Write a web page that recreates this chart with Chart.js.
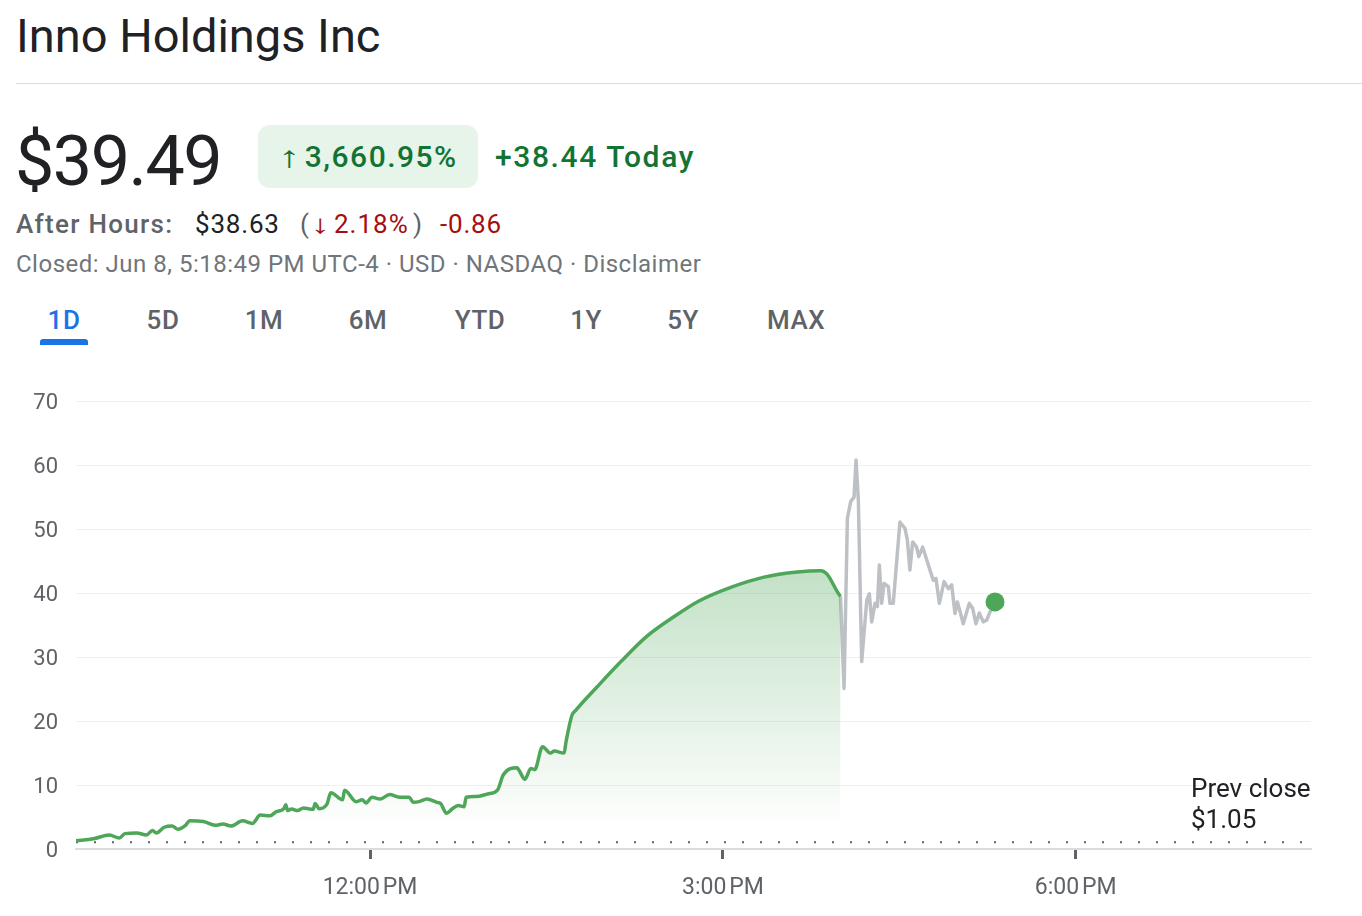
<!DOCTYPE html>
<html>
<head>
<meta charset="utf-8">
<title>Inno Holdings Inc</title>
<script src="https://cdn.jsdelivr.net/npm/chart.js@4.4.0/dist/chart.umd.min.js"></script>
<style>
  body { margin: 0; background: #fff; font-family: Roboto, Arial, sans-serif; width: 1362px; height: 916px; overflow: hidden; position: relative; }
  .abs { position: absolute; white-space: nowrap; }
  #title { left: 16px; top: 12px; font-size: 47px; line-height: 47px; color: #202124; }
  #rule { left: 16px; right: 0; top: 83px; height: 1px; background: #dadce0; }
  #price { left: 15px; top: 126px; font-size: 70px; line-height: 70px; letter-spacing: -1.5px; color: #202124; }
  #badge { left: 258px; top: 125px; width: 220px; height: 63px; border-radius: 12px; background: #e6f4ea; color: #137333; font-size: 30px; font-weight: 500; line-height: 63px; text-align: center; letter-spacing: 1.5px; }
  .ar { display: inline-block; transform: scaleX(1.5); margin: 0 6px 0 4px; }
  #today { left: 495px; top: 142px; font-size: 30px; font-weight: 500; line-height: 30px; letter-spacing: 1.6px; color: #137333; }
  .ah { position: absolute; top: 211px; font-size: 26px; line-height: 26px; color: #5f6368; white-space: nowrap; }
  #ahLabel { left: 16px; font-weight: 500; letter-spacing: 1.3px; }
  #ahPrice { left: 195px; color: #202124; letter-spacing: 0.8px; }
  #ahPct { left: 310px; color: #a50e0e; letter-spacing: 1px; }
  #ahChg { left: 440px; color: #a50e0e; letter-spacing: 0.8px; }
  #closed { left: 16px; top: 252px; font-size: 24px; line-height: 24px; letter-spacing: 0.5px; color: #70757a; }
  .tab { position: absolute; top: 305px; font-size: 26px; font-weight: 500; line-height: 30px; letter-spacing: 0.5px; color: #5f6368; transform: translateX(-50%); }
  .tab.on { color: #1a73e8; }
  #uline { left: 40px; top: 339px; width: 48px; height: 6px; border-radius: 3px 3px 0 0; background: #1a73e8; }
  #wrap { position: absolute; left: 0; top: 370px; width: 1362px; height: 546px; }
</style>
</head>
<body>
<div class="abs" id="title">Inno Holdings Inc</div>
<div class="abs" id="rule"></div>
<div class="abs" id="price">$39.49</div>
<div class="abs" id="badge"><span class="ar">↑</span>3,660.95%</div>
<div class="abs" id="today">+38.44 Today</div>
<div class="ah" id="ahLabel">After Hours:</div>
<div class="ah" id="ahPrice">$38.63</div>
<div class="ah" style="left:300px">(</div>
<div class="ah" id="ahPct"><span class="ar">↓</span>2.18%</div>
<div class="ah" style="left:413px">)</div>
<div class="ah" id="ahChg">-0.86</div>
<div class="abs" id="closed">Closed: Jun 8, 5:18:49 PM UTC-4 · USD · NASDAQ · Disclaimer</div>
<div id="tabs"></div>
<div class="abs" id="uline"></div>
<div id="wrap"><canvas id="myChart"></canvas></div>

<script>
// minutes after 9:30 AM and price in $
const sessionMinutes = [0, 9, 17, 22, 25, 31, 36, 39, 41, 45, 49, 52, 56, 58, 65, 71, 75, 79, 85, 90,
  94, 99, 102, 106, 107, 108, 110, 113, 116, 121, 122, 124, 128, 130, 136, 137, 143, 146, 148, 151,
  155, 160, 165, 170, 172, 175, 179, 184, 186, 189, 192, 195, 198, 199, 204, 210, 215, 218, 225, 226,
  229, 232, 234, 238, 242, 244, 249, 250, 253, 255, 266, 278, 291, 305, 318, 334, 351, 368, 380, 383,
  389, 390];
const sessionPrices = [1.3, 1.6, 2.2, 1.7, 2.4, 2.5, 2.2, 2.9, 2.5, 3.4, 3.6, 3.1, 3.75, 4.4, 4.3, 3.7, 3.9, 3.6, 4.4, 4.0,
  5.3, 5.2, 5.8, 6.3, 6.9, 6.0, 6.25, 6.0, 6.4, 6.2, 7.1, 6.3, 7.0, 8.8, 7.7, 9.2, 7.4, 7.7, 7.2, 8.1,
  7.8, 8.5, 8.1, 8.1, 7.3, 7.4, 7.8, 7.3, 7.1, 5.6, 6.3, 6.8, 6.6, 8.1, 8.2, 8.6, 9.2, 11.6, 12.7, 12.3,
  10.9, 12.6, 12.4, 16.0, 15.0, 15.3, 15.0, 16.8, 20.9, 21.7, 25.4, 29.3, 33.2, 36.3, 38.8, 40.9, 42.5, 43.3, 43.5, 43.0,
  39.9, 39.49];

const afterMinutes = [390, 391.8, 393.5, 395.2, 396.9, 397.9, 399.1, 400.8, 403.4, 404.7, 405.9, 407.6, 408.8, 409.8,
  411.0, 412.2, 414.4, 415.2, 416.9, 420.3, 422.9, 424.1, 425.4, 426.8, 428.8, 429.9, 431.9, 434.8,
  437.3, 438.7, 440.4, 442.8, 445.0, 446.7, 448.4, 449.6, 451.0, 452.6, 455.7, 457.4, 459.1, 460.8,
  462.8, 464.6, 466.3, 468.8];
const afterPrices = [39.49, 25.1, 51.7, 54.3, 55.0, 60.8, 54.5, 29.3, 38.9, 39.9, 35.5, 38.4, 37.9, 44.4,
  38.4, 41.5, 41.0, 38.4, 38.4, 51.1, 50.1, 48.3, 43.6, 48.0, 47.2, 45.7, 47.2, 44.4,
  42.0, 42.3, 38.4, 41.8, 40.7, 41.3, 36.8, 38.6, 37.1, 35.2, 38.4, 37.6, 35.2, 36.9,
  35.5, 35.8, 37.1, 38.63];

const prevClose = 1.05;
const lastMinute = 468.8;
const lastPrice = 38.63;

const tickMinutes = [150, 330, 510];
const tickLabels = ['12:00\u202fPM', '3:00\u202fPM', '6:00\u202fPM'];

const tabNames = ['1D', '5D', '1M', '6M', 'YTD', '1Y', '5Y', 'MAX'];
const tabCenters = [64, 163, 264, 368, 480, 586, 683, 796];

const green = '#4ea659';
const grey = '#bdc1c6';

// tabs
const tabsEl = document.getElementById('tabs');
tabNames.forEach((t, i) => {
  const s = document.createElement('div');
  s.className = 'tab' + (i === 0 ? ' on' : '');
  s.style.left = tabCenters[i] + 'px';
  s.textContent = t;
  tabsEl.appendChild(s);
});

const toPoints = (xs, ys) => xs.map((x, i) => ({ x: x, y: ys[i] }));

// label "Prev close $1.05" above the dotted line
const prevClosePlugin = {
  id: 'prevClose',
  afterDatasetsDraw(chart) {
    const { ctx, chartArea, scales } = chart;
    const y = scales.y.getPixelForValue(prevClose);
    ctx.save();
    ctx.font = '26px Roboto';
    ctx.fillStyle = '#202124';
    ctx.textBaseline = 'alphabetic';
    const x = chartArea.right - 120;
    ctx.fillText('Prev close', x, y - 45);
    ctx.fillText('$' + prevClose.toFixed(2), x, y - 14);
    ctx.restore();
  }
};

const ctx = document.getElementById('myChart').getContext('2d');

const myChart = new Chart(ctx, {
  type: 'line',
  data: {
    datasets: [
      {
        // punto final (after hours)
        data: [{ x: lastMinute, y: lastPrice }],
        showLine: false,
        pointRadius: 9.5,
        pointBackgroundColor: green,
        pointBorderWidth: 0,
        order: 0
      },
      {
        data: toPoints(sessionMinutes, sessionPrices),
        borderColor: green,
        borderWidth: 3.5,
        borderJoinStyle: 'round',
        pointRadius: 0,
        cubicInterpolationMode: 'monotone',
        fill: 'origin',
        backgroundColor: (c) => {
          const chart = c.chart;
          if (!chart.chartArea) return 'rgba(78,166,89,0.2)';
          const yS = chart.scales.y;
          const g = chart.ctx.createLinearGradient(0, yS.getPixelForValue(44), 0, yS.getPixelForValue(3));
          g.addColorStop(0, 'rgba(78,166,89,0.34)');
          g.addColorStop(1, 'rgba(78,166,89,0)');
          return g;
        },
        order: 1
      },
      {
        data: toPoints(afterMinutes, afterPrices),
        borderColor: grey,
        borderWidth: 3.5,
        borderJoinStyle: 'round',
        pointRadius: 0,
        tension: 0,
        fill: false,
        order: 2
      },
      {
        // prev close
        data: [{ x: 0, y: prevClose }, { x: 630, y: prevClose }],
        borderColor: '#5f6368',
        borderWidth: 2,
        borderDash: [2, 16],
        pointRadius: 0,
        fill: false,
        order: 3
      }
    ]
  },
  options: {
    responsive: true,
    maintainAspectRatio: false,
    animation: false,
    layout: { padding: { top: 31, right: 51, left: 0, bottom: 0 } },
    plugins: { legend: { display: false }, tooltip: { enabled: false } },
    scales: {
      x: {
        type: 'linear',
        min: 0,
        max: 630,
        afterBuildTicks: (scale) => { scale.ticks = tickMinutes.map(v => ({ value: v })); },
        afterFit: (scale) => { scale.height = 67; },
        ticks: {
          callback: (v) => tickLabels[tickMinutes.indexOf(v)],
          color: '#5f6368',
          font: { family: 'Roboto', size: 23 },
          padding: 15,
          maxRotation: 0,
          autoSkip: false
        },
        grid: { drawOnChartArea: false, drawTicks: true, tickLength: 10, tickWidth: 3, tickColor: '#5f6368' },
        border: { display: true, color: '#dadce0', width: 2 }
      },
      y: {
        min: 0,
        max: 70,
        afterFit: (scale) => { scale.width = 76; },
        ticks: {
          stepSize: 10,
          color: '#5f6368',
          font: { family: 'Roboto', size: 22 },
          padding: 18,
          labelOffset: 2
        },
        grid: { color: '#eef0f2', lineWidth: 1, drawTicks: false },
        border: { display: false }
      }
    }
  },
  plugins: [prevClosePlugin]
});
</script>
</body>
</html>
